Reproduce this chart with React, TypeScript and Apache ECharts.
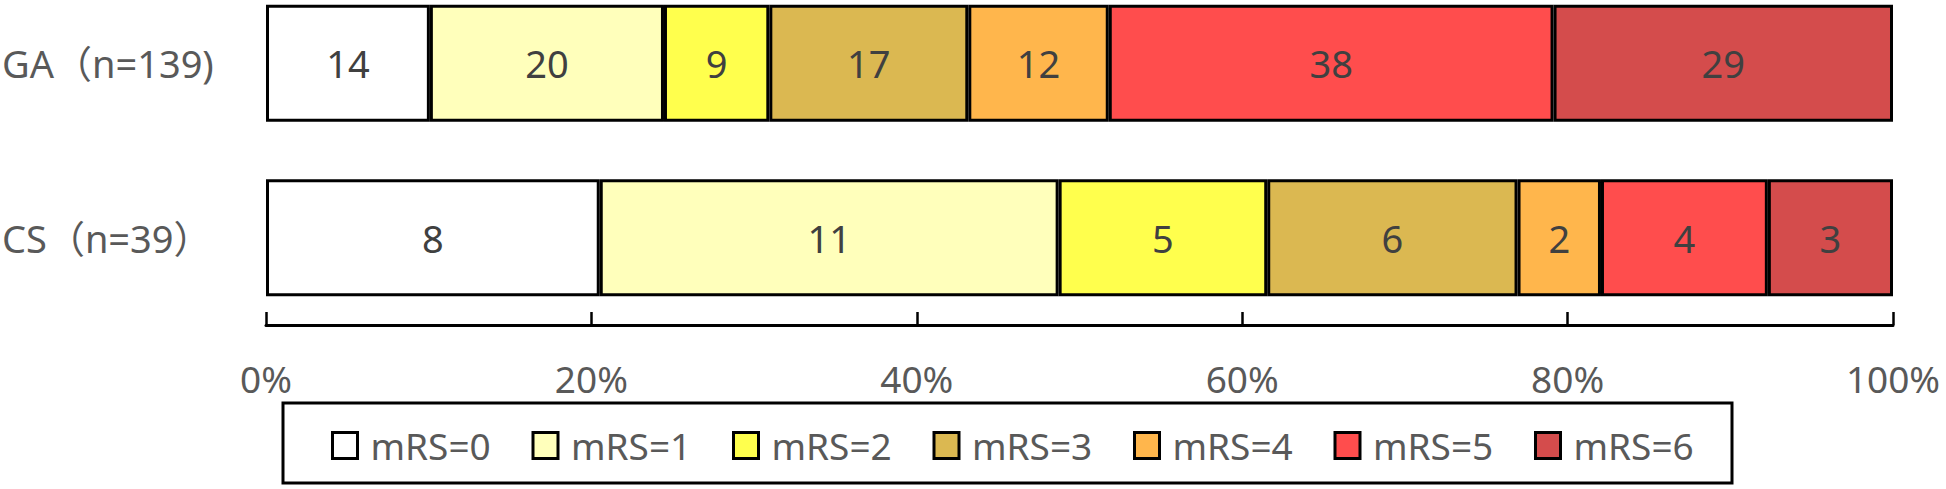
import React, { useEffect, useRef } from "react";
import * as echarts from "echarts";

const categories = ["GA（n=139)", "CS（n=39）"];
const levels = ["mRS=0", "mRS=1", "mRS=2", "mRS=3", "mRS=4", "mRS=5", "mRS=6"];
const gaCounts = [14, 20, 9, 17, 12, 38, 29];
const csCounts = [8, 11, 5, 6, 2, 4, 3];
const levelColors = ["#FFFFFF", "#FFFFBB", "#FFFF4D", "#DBB851", "#FFB64C", "#FF4D4D", "#D44C4C"];

const FONT = '"Noto Sans", "Noto Sans CJK SC", sans-serif';

export default function App() {
  const ref = useRef<HTMLDivElement>(null);

  useEffect(() => {
    if (!ref.current) return;
    const chart = echarts.init(ref.current, null, { renderer: "svg" });
    const gaTotal = gaCounts.reduce((a, b) => a + b, 0);
    const csTotal = csCounts.reduce((a, b) => a + b, 0);

    const series = levels.map((name, i) => ({
      name,
      type: "bar",
      stack: "total",
      barWidth: 117,
      itemStyle: { color: levelColors[i], borderColor: "#000", borderWidth: 3 },
      label: {
        show: true,
        position: "inside",
        fontSize: 38,
        fontFamily: FONT,
        color: "#404040",
        formatter: (p: any) => String(p.data.count),
      },
      data: [
        { value: (gaCounts[i] / gaTotal) * 100, count: gaCounts[i] },
        { value: (csCounts[i] / csTotal) * 100, count: csCounts[i] },
      ],
    }));

    chart.setOption({
      animation: false,
      textStyle: { fontFamily: FONT },
      grid: {
        left: 266,
        right: 53,
        top: -24,
        bottom: 164,
        containLabel: false,
        outerBoundsMode: "none",
      },
      xAxis: {
        type: "value",
        min: 0,
        max: 100,
        interval: 20,
        splitLine: { show: false },
        axisLine: { show: true, lineStyle: { color: "#000", width: 3 } },
        axisTick: { show: true, inside: true, length: 13, lineStyle: { color: "#000", width: 2.5 } },
        axisLabel: {
          formatter: "{value}%",
          fontSize: 37,
          fontFamily: FONT,
          color: "#595959",
          margin: 35,
        },
      },
      yAxis: {
        type: "category",
        inverse: true,
        data: categories,
        axisLine: { show: false },
        axisTick: { show: false },
        axisLabel: {
          align: "left",
          margin: 264,
          fontSize: 38,
          fontFamily: FONT,
          color: "#595959",
        },
      },
      legend: {
        data: levels,
        left: 326,
        top: 422,
        itemWidth: 25,
        itemHeight: 26,
        itemGap: 31,
        icon: "rect",
        itemStyle: { borderColor: "#000", borderWidth: 3 },
        textStyle: {
          fontSize: 37,
          fontFamily: FONT,
          color: "#595959",
          lineHeight: 37,
          width: 130,
          padding: [0, 0, 0, 8],
        },
      },
      graphic: [
        {
          type: "rect",
          shape: { x: 283, y: 403, width: 1449, height: 80 },
          style: { fill: "none", stroke: "#000", lineWidth: 3 },
          silent: true,
        },
      ],
      series,
    });

    return () => chart.dispose();
  }, []);

  return (
    <div
      ref={ref}
      style={{ position: "fixed", left: 0, top: 0, width: 1946, height: 489, background: "#fff" }}
    />
  );
}
